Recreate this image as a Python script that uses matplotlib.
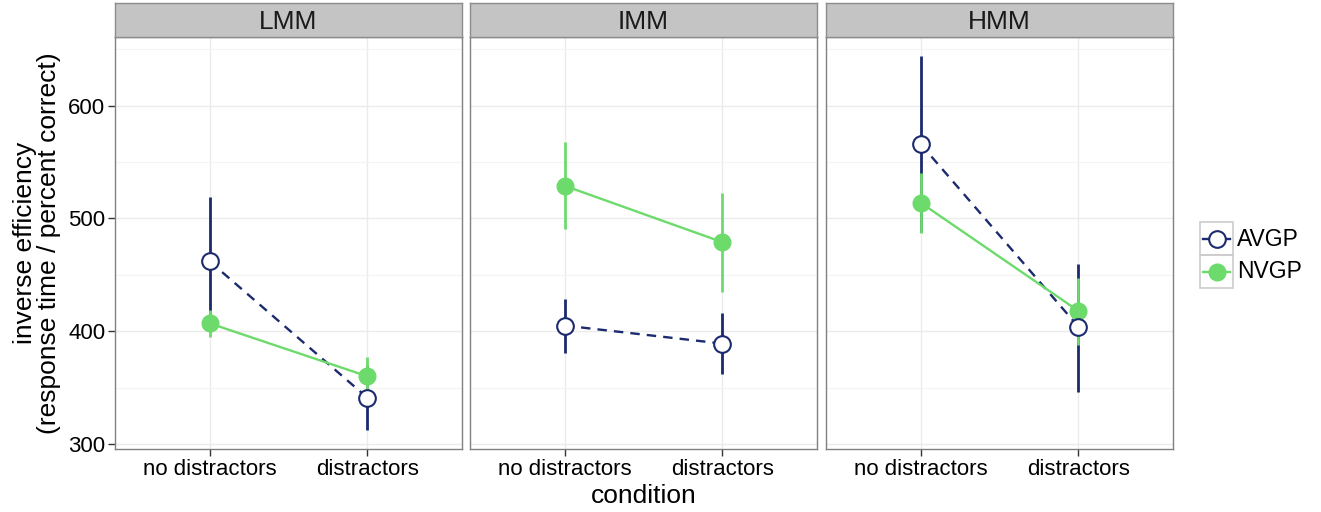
import numpy as np
import matplotlib
matplotlib.use("Agg")
import matplotlib.pyplot as plt
from matplotlib.patches import Rectangle

plt.rcParams['font.family'] = ['Liberation Sans', 'DejaVu Sans']

facets = ["LMM", "IMM", "HMM"]
conditions = ["no distractors", "distractors"]

# AVGP (open navy circles, dashed)
avgp_mean = [[462, 341], [405, 389], [566, 404]]
avgp_lo = [[405, 312], [381, 362], [488, 346]]
avgp_hi = [[519, 370], [429, 416], [644, 460]]

# NVGP (filled green circles, solid)
nvgp_mean = [[407, 360], [529, 479], [514, 418]]
nvgp_lo = [[395, 343], [491, 435], [487, 388]]
nvgp_hi = [[419, 377], [568, 523], [540, 447]]

navy = '#1C2A6E'
green = '#6CDB6C'

W, H = 1321, 512
fig = plt.figure(figsize=(W / 100, H / 100), dpi=100)

lefts = [115, 470, 826]
pw = 347
ptop, pbot = 37, 449
stop = 3

x = np.arange(1, len(conditions) + 1)

for i, name in enumerate(facets):
    ax = fig.add_axes([lefts[i] / W, 1 - pbot / H, pw / W, (pbot - ptop) / H])
    ax.set_xlim(0.4, 2.6)
    ax.set_ylim(295.5, 661)
    ax.set_yticks([300, 400, 500, 600])
    ax.set_yticks([350, 450, 550, 650], minor=True)
    ax.set_xticks(x)
    ax.set_xticklabels(conditions)
    ax.grid(True, which='major', color='#EBEBEB', lw=1.0, zorder=0)
    ax.grid(True, which='minor', axis='y', color='#F4F4F4', lw=0.8, zorder=0)
    ax.set_axisbelow(True)
    ax.tick_params(axis='both', which='major', length=5, width=1, color='#333333',
                   labelsize=16, pad=2)
    ax.tick_params(axis='y', which='minor', length=0)
    if i > 0:
        ax.tick_params(axis='y', which='major', length=0, labelleft=False)
    for s in ax.spines.values():
        s.set_color('#808080')
        s.set_linewidth(1.0)

    # error bars
    ax.vlines(x, avgp_lo[i], avgp_hi[i], color=navy, lw=2, zorder=2)
    ax.vlines(x, nvgp_lo[i], nvgp_hi[i], color=green, lw=2, zorder=2.5)
    # lines
    ax.plot(x, avgp_mean[i], color=navy, lw=1.7, ls=(0, (4, 3)), zorder=3)
    ax.plot(x, nvgp_mean[i], color=green, lw=1.7, zorder=3)
    # points
    ax.plot(x, nvgp_mean[i], 'o', color=green, ms=12, mec=green, zorder=4)
    ax.plot(x, avgp_mean[i], 'o', mfc='white', mec=navy, mew=1.5, ms=12, zorder=5)

    # facet strip
    sax = fig.add_axes([lefts[i] / W, 1 - ptop / H, pw / W, (ptop - stop) / H])
    sax.set_xticks([])
    sax.set_yticks([])
    sax.set_facecolor('#C4C4C4')
    for s in sax.spines.values():
        s.set_color('#8C8C8C')
        s.set_linewidth(1.0)
    sax.text(0.5, 0.45, name, ha='center', va='center', fontsize=19,
             color='#1A1A1A', transform=sax.transAxes)

fig.text((lefts[0] + lefts[2] + pw) / 2 / W, 1 - 496 / H, 'condition',
         ha='center', va='center', fontsize=19)
fig.text(37 / W, 1 - 243 / H, 'inverse efficiency\n(response time / percent correct)',
         ha='center', va='center', rotation=90, fontsize=19, linespacing=0.95)

# legend
lax = fig.add_axes([1200 / W, 1 - 288 / H, 33 / W, 66 / H])
lax.set_xlim(0, 1)
lax.set_ylim(0, 2)
lax.axis('off')
for k, (lab, yy) in enumerate([('AVGP', 1.5), ('NVGP', 0.5)]):
    lax.add_patch(Rectangle((0, yy - 0.5), 1, 1, fill=False, ec='#CCCCCC', lw=1.2,
                            clip_on=False))
    if lab == 'AVGP':
        lax.plot([0.1, 0.9], [yy, yy], color=navy, lw=1.7)
        lax.plot([0.5], [yy], 'o', mfc='white', mec=navy, mew=1.5, ms=12)
    else:
        lax.plot([0.1, 0.9], [yy, yy], color=green, lw=1.7)
        lax.plot([0.5], [yy], 'o', color=green, ms=12)
    fig.text(1237 / W, 1 - (222 + 33 * k + 17) / H, lab, ha='left', va='center',
             fontsize=16.5)

fig.savefig('out.png', dpi=100)
